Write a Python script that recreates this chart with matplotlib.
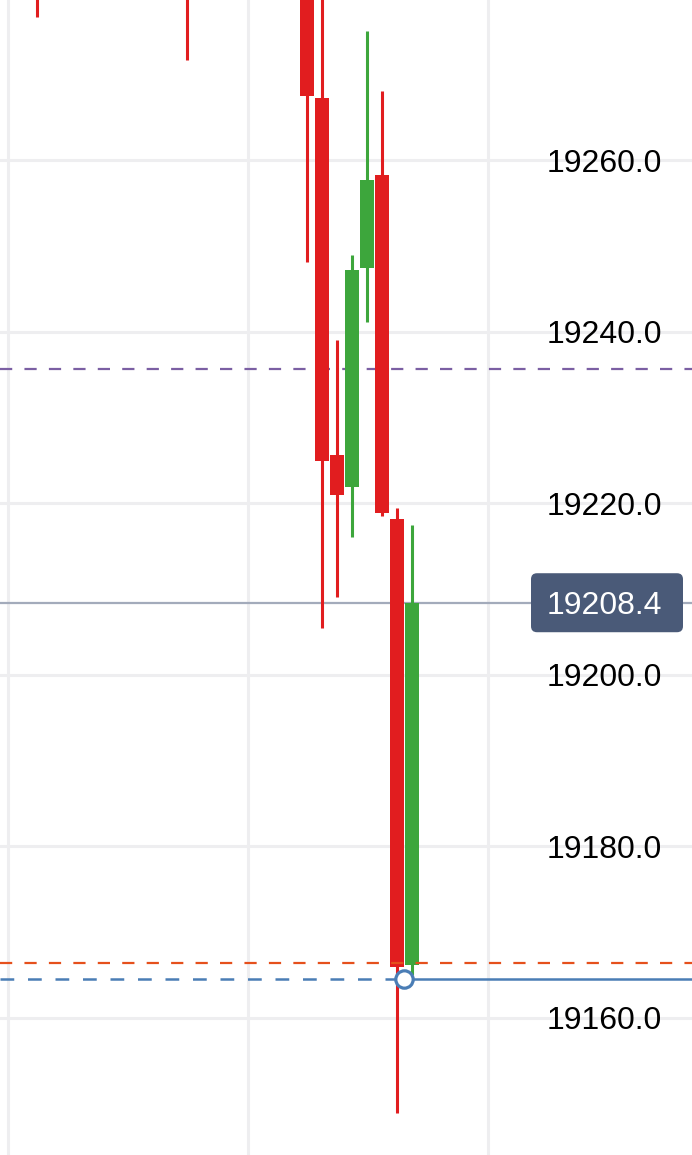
import matplotlib
matplotlib.use('Agg')
import matplotlib.pyplot as plt
from matplotlib.patches import FancyBboxPatch
import numpy as np

plt.rcParams['font.family'] = ['Liberation Sans', 'DejaVu Sans']

# candle index (15 px apart), only the ones that reach the visible window
idx = [0, 10, 18, 19, 20, 21, 22, 23, 24, 25]
opens = [19290.0, 19288.0, 19286.0, 19267.2, 19225.6, 19221.9, 19247.4, 19258.3, 19218.2, 19166.2]
highs = [19295.0, 19292.0, 19290.0, 19285.0, 19239.0, 19248.9, 19275.0, 19268.0, 19219.4, 19217.5]
lows = [19276.7, 19271.7, 19248.1, 19205.5, 19209.1, 19216.1, 19241.1, 19218.5, 19148.9, 19165.0]
closes = [19285.0, 19283.0, 19267.5, 19224.9, 19221.0, 19247.2, 19257.7, 19218.9, 19166.0, 19208.4]

yticks = [19160.0, 19180.0, 19200.0, 19220.0, 19240.0, 19260.0, 19280.0]
xgrid = [-1.93, 14.07, 30.07]

last_price = 19208.4
purple_line = 19235.6
orange_line = 19166.4
blue_line = 19164.5
blue_point_x = 24.45

red = '#e11d1f'
green = '#3da63c'

fig = plt.figure(figsize=(6.92, 11.55), dpi=100)
ax = fig.add_axes([0, 0, 1, 1])
ax.set_xlim(-2.467, 43.67)
ax.set_ylim(19144.03, 19278.65)

for s in ax.spines.values():
    s.set_visible(False)
ax.set_xticks([])
ax.set_yticks([])

# grid
for g in xgrid:
    ax.axvline(g, color='#eeeef0', lw=2.2, zorder=0)
for t in yticks:
    ax.axhline(t, color='#eeeef0', lw=2.2, zorder=0)

# candles
for i, o, h, l, c in zip(idx, opens, highs, lows, closes):
    col = green if c >= o else red
    ax.vlines(i, l, h, color=col, lw=2.2, zorder=3)
    ax.bar(i, abs(c - o), bottom=min(o, c), width=0.9, color=col, zorder=4)

# level lines
ax.axhline(purple_line, color='#7b5fa3', lw=1.6, dashes=(5.5, 5.5), zorder=2)
ax.axhline(orange_line, color='#e5501c', lw=1.6, dashes=(5.5, 5.5), zorder=5)
ax.axhline(last_price, color='#a3abbb', lw=1.6, zorder=2)
ax.plot([-2.467, blue_point_x], [blue_line, blue_line], color='#4a7db5', lw=1.8,
        dashes=(5.5, 5.5), zorder=5)
ax.plot([blue_point_x, 43.67], [blue_line, blue_line], color='#4a7db5', lw=1.8, zorder=5)
ax.plot(blue_point_x, blue_line, 'o', ms=12.5, mfc='white', mec='#4a7db5', mew=2.3, zorder=6)

# price axis labels
for t in yticks:
    ax.text(0.957, t, '%.1f' % t, transform=ax.get_yaxis_transform(), ha='right',
            va='center_baseline', fontsize=23, color='#000000', zorder=7)

# last price tag (drawn in pixel coords so the corners stay round)
fig.canvas.draw()
yc = ax.transData.transform((0, last_price))[1]
tag = FancyBboxPatch((531 + 6, yc - 29.5 + 6), 152 - 12, 59 - 12,
                     boxstyle='round,pad=6', fc='#4a5a78', ec='none',
                     transform=None, zorder=8)
ax.add_artist(tag)
ax.text(0.957, last_price, '%.1f' % last_price, transform=ax.get_yaxis_transform(),
        ha='right', va='center_baseline', fontsize=23, color='white', zorder=9)

fig.savefig('out.png', dpi=100)
